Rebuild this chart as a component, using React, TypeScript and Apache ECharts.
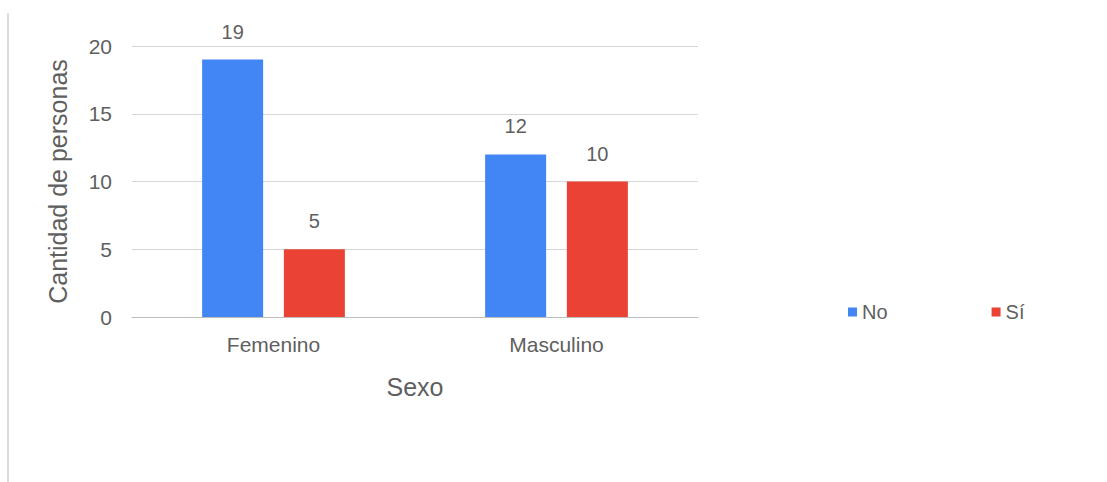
import React, { useEffect, useRef } from "react";
import * as echarts from "echarts";

const categories = ["Femenino", "Masculino"];
const seriesNames = ["No", "Sí"];
const valuesNo = [19, 12];
const valuesSi = [5, 10];
const yTicks = { min: 0, max: 20, interval: 5 };
const xAxisName = "Sexo";
const yAxisName = "Cantidad de personas";

const FONT = "'Liberation Sans', Arial, sans-serif";
const TEXT = "#5f5f5f";

export default function App() {
  const ref = useRef<HTMLDivElement>(null);
  useEffect(() => {
    if (!ref.current) return;
    const chart = echarts.init(ref.current, undefined, { renderer: "svg" });
    const labelCfg = {
      show: true,
      position: "top",
      distance: 18,
      color: TEXT,
      fontSize: 20,
      fontFamily: FONT,
    };
    chart.setOption({
      animation: false,
      backgroundColor: "#ffffff",
      textStyle: { fontFamily: FONT },
      grid: { left: 132, right: 409, top: 46, bottom: 165, containLabel: false },
      legend: {
        data: seriesNames,
        left: 843,
        top: 297,
        icon: "rect",
        itemWidth: 9,
        itemHeight: 9,
        itemGap: 104,
        textStyle: { color: TEXT, fontSize: 20, fontFamily: FONT, padding: [0, 0, 0, 0] },
      },
      xAxis: {
        type: "category",
        data: categories,
        name: xAxisName,
        nameLocation: "middle",
        nameGap: 57,
        nameTextStyle: { color: TEXT, fontSize: 25, fontFamily: FONT },
        axisLine: { lineStyle: { color: "#bdbdbd", width: 1 } },
        axisTick: { show: false },
        axisLabel: { color: TEXT, fontSize: 21, fontFamily: FONT, margin: 17 },
      },
      yAxis: {
        type: "value",
        min: yTicks.min,
        max: yTicks.max,
        interval: yTicks.interval,
        name: yAxisName,
        nameLocation: "middle",
        nameGap: 62,
        nameTextStyle: { color: TEXT, fontSize: 25, fontFamily: FONT },
        axisLine: { show: false },
        axisTick: { show: false },
        axisLabel: { color: TEXT, fontSize: 21, fontFamily: FONT, margin: 20 },
        splitLine: { lineStyle: { color: "#d6d6d6", width: 1 } },
      },
      series: [
        {
          name: seriesNames[0],
          type: "bar",
          data: valuesNo,
          barWidth: 61,
          barGap: "34%",
          itemStyle: { color: "#4285f4" },
          label: labelCfg,
        },
        {
          name: seriesNames[1],
          type: "bar",
          data: valuesSi,
          barWidth: 61,
          barGap: "34%",
          itemStyle: { color: "#ea4335" },
          label: labelCfg,
        },
      ],
      graphic: [
        {
          type: "line",
          shape: { x1: 8, y1: 13, x2: 8, y2: 482 },
          style: { stroke: "#dcdcdc", lineWidth: 2 },
        },
      ],
    });
    return () => chart.dispose();
  }, []);
  return (
    <div
      ref={ref}
      style={{ position: "fixed", left: 0, top: 0, width: 1107, height: 482 }}
    />
  );
}
